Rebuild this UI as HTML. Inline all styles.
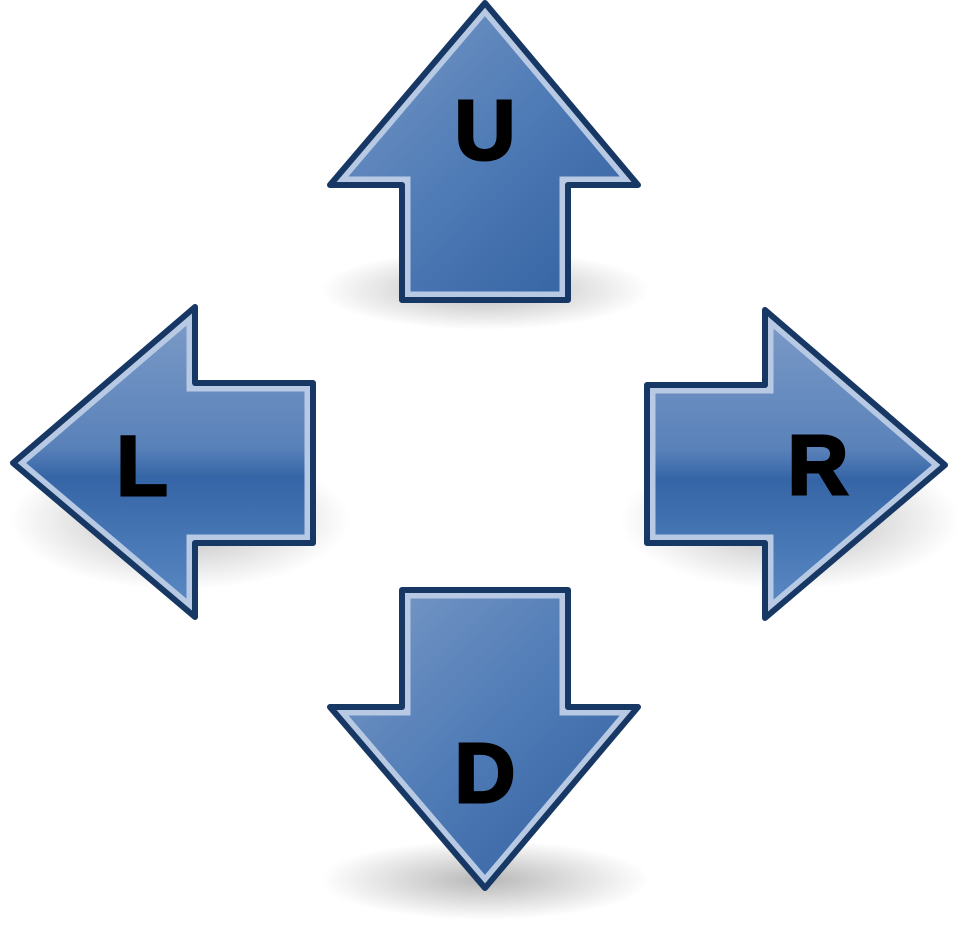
<!DOCTYPE html>
<html><head><meta charset="utf-8"><style>
html,body{margin:0;padding:0;background:#fff;width:960px;height:928px;overflow:hidden}
svg{display:block}
text{font-family:"Liberation Sans",sans-serif;font-weight:bold;font-size:84px;fill:#000;stroke:#000;stroke-width:3}
</style></head><body>
<svg width="960" height="928" viewBox="0 0 960 928">
<defs>
<linearGradient id="gU" x1="0" y1="0" x2="1" y2="1"><stop offset="0" stop-color="#7d9cc8"/><stop offset="0.5" stop-color="#4f7bb6"/><stop offset="1" stop-color="#2f5e9e"/></linearGradient>
<linearGradient id="gH" x1="0" y1="0" x2="0" y2="1"><stop offset="0" stop-color="#7d9cc8"/><stop offset="0.45" stop-color="#5a82ba"/><stop offset="0.55" stop-color="#3565a6"/><stop offset="1" stop-color="#5d8cc6"/></linearGradient>
<radialGradient id="sh"><stop offset="0" stop-color="#000" stop-opacity="0.28"/><stop offset="1" stop-color="#000" stop-opacity="0"/></radialGradient>
<clipPath id="cU"><polygon points="485,3 638,185 568,185 568,300 402,300 402,185 330,185"/></clipPath>
<clipPath id="cD"><polygon points="485,888 638,707 568,707 568,590 402,590 402,707 330,707"/></clipPath>
<clipPath id="cL"><polygon points="13,463 195,307 195,383 313,383 313,543 195,543 195,617"/></clipPath>
<clipPath id="cR"><polygon points="945,465 765,310 765,385 647,385 647,543 765,543 765,618"/></clipPath>
</defs>
<g>
<ellipse cx="485" cy="290" rx="165" ry="40" fill="url(#sh)"/>
<ellipse cx="485" cy="880" rx="165" ry="40" fill="url(#sh)"/>
<ellipse cx="180" cy="520" rx="170" ry="70" fill="url(#sh)"/>
<ellipse cx="790" cy="520" rx="170" ry="70" fill="url(#sh)"/>
</g>
<g>
<polygon points="485,3 638,185 568,185 568,300 402,300 402,185 330,185" fill="url(#gU)"/>
<polygon points="485,3 638,185 568,185 568,300 402,300 402,185 330,185" fill="none" stroke="#b7c9e3" stroke-width="17" clip-path="url(#cU)"/>
<polygon points="485,3 638,185 568,185 568,300 402,300 402,185 330,185" fill="none" stroke="#173764" stroke-width="6" stroke-linejoin="round"/>
<text x="485" y="159" text-anchor="middle">U</text>
</g>
<g>
<polygon points="485,888 638,707 568,707 568,590 402,590 402,707 330,707" fill="url(#gU)"/>
<polygon points="485,888 638,707 568,707 568,590 402,590 402,707 330,707" fill="none" stroke="#b7c9e3" stroke-width="17" clip-path="url(#cD)"/>
<polygon points="485,888 638,707 568,707 568,590 402,590 402,707 330,707" fill="none" stroke="#173764" stroke-width="6" stroke-linejoin="round"/>
<text x="485" y="802" text-anchor="middle">D</text>
</g>
<g>
<polygon points="13,463 195,307 195,383 313,383 313,543 195,543 195,617" fill="url(#gH)"/>
<polygon points="13,463 195,307 195,383 313,383 313,543 195,543 195,617" fill="none" stroke="#b7c9e3" stroke-width="17" clip-path="url(#cL)"/>
<polygon points="13,463 195,307 195,383 313,383 313,543 195,543 195,617" fill="none" stroke="#173764" stroke-width="6" stroke-linejoin="round"/>
<text x="142" y="495" text-anchor="middle">L</text>
</g>
<g>
<polygon points="945,465 765,310 765,385 647,385 647,543 765,543 765,618" fill="url(#gH)"/>
<polygon points="945,465 765,310 765,385 647,385 647,543 765,543 765,618" fill="none" stroke="#b7c9e3" stroke-width="17" clip-path="url(#cR)"/>
<polygon points="945,465 765,310 765,385 647,385 647,543 765,543 765,618" fill="none" stroke="#173764" stroke-width="6" stroke-linejoin="round"/>
<text x="818" y="494" text-anchor="middle">R</text>
</g>
</svg>
</body></html>
